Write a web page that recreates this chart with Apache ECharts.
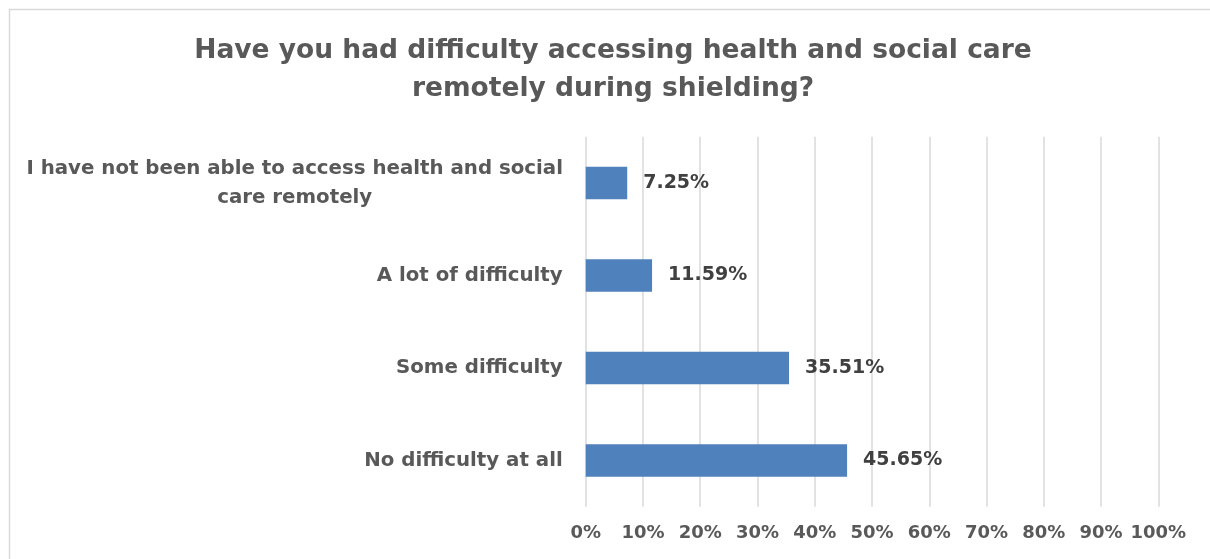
<!DOCTYPE html>
<html>
<head>
<meta charset="utf-8">
<script src="https://cdn.jsdelivr.net/npm/echarts@6/dist/echarts.min.js"></script>
<style>
  html, body { margin: 0; padding: 0; background: #fff; }
  #chart { width: 1210px; height: 559px; }
</style>
</head>
<body>
<div id="chart"></div>
<script>
// Survey answers, top to bottom
const categories = [
  'I have not been able to access health and social\ncare remotely',
  'A lot of difficulty',
  'Some difficulty',
  'No difficulty at all'
];
// Share of respondents (%)
const shares = [7.25, 11.59, 35.51, 45.65];
const titleLines = [
  'Have you had difficulty accessing health and social care',
  'remotely during shielding?'
];

const FONT = '"DejaVu Sans", sans-serif';
const GREY = '#595959';
const chart = echarts.init(document.getElementById('chart'));

chart.setOption({
  animation: false,
  backgroundColor: '#ffffff',
  title: {
    text: titleLines.join('\n'),
    left: 608,
    top: 27,
    textAlign: 'center',
    textStyle: {
      fontFamily: FONT,
      fontWeight: 'bold',
      fontSize: 26.5,
      lineHeight: 38,
      color: GREY
    }
  },
  graphic: [{
    type: 'rect',
    shape: { x: 9.5, y: 9.5, width: 1240, height: 600 },
    style: { fill: 'none', stroke: '#d9d9d9', lineWidth: 1.5 },
    silent: true
  }],
  grid: { left: 585.7, right: 51.7, top: 136.75, bottom: 52.25, containLabel: false },
  xAxis: {
    type: 'value',
    min: 0,
    max: 100,
    interval: 10,
    axisLine: { show: false },
    axisTick: { show: false },
    splitLine: { lineStyle: { color: '#d9d9d9', width: 1.5 } },
    axisLabel: {
      formatter: '{value}%',
      margin: 18,
      fontFamily: FONT,
      fontWeight: 'bold',
      fontSize: 18,
      color: GREY
    }
  },
  yAxis: {
    type: 'category',
    inverse: true,
    data: categories,
    axisLine: { show: false },
    axisTick: { show: false },
    axisLabel: {
      margin: 23,
      formatter: function (v) {
        if (v.indexOf('\n') >= 0) {
          return v.split('\n').map(function (s) { return '{c|' + s + '}'; }).join('\n');
        }
        return '{r|' + v + '}';
      },
      rich: {
        c: { width: 536, align: 'center', fontFamily: FONT, fontWeight: 'bold', fontSize: 19.8, color: GREY, lineHeight: 29 },
        r: { fontFamily: FONT, fontWeight: 'bold', fontSize: 19.8, color: GREY }
      }
    }
  },
  series: [{
    type: 'bar',
    data: shares,
    barWidth: '35%',
    itemStyle: { color: '#4f81bd' },
    label: {
      show: true,
      position: 'right',
      distance: 16,
      formatter: function (p) { return p.value.toFixed(2) + '%'; },
      fontFamily: FONT,
      fontWeight: 'bold',
      fontSize: 19,
      color: '#404040'
    }
  }]
});
</script>
</body>
</html>
